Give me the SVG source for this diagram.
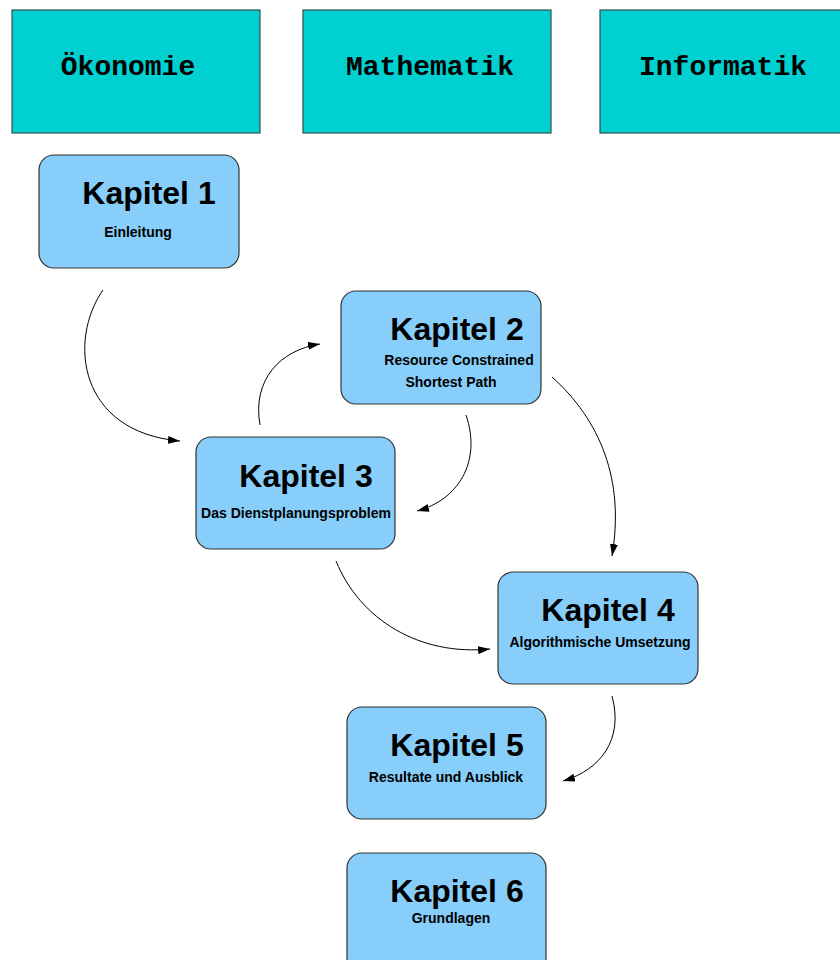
<svg xmlns="http://www.w3.org/2000/svg" width="840" height="960" viewBox="0 0 840 960">
<style>
.area{fill:#00d0d0;stroke:#2f4f4f;stroke-width:1.2}
.area-t{font-family:"Liberation Mono","Courier New",monospace;font-weight:bold;font-size:28px;fill:#000;text-anchor:middle}
.kap{fill:#87cefa;stroke:#333;stroke-width:1.2}
.kap-t{font-family:"Liberation Sans",Arial,sans-serif;font-weight:bold;font-size:32px;fill:#000;text-anchor:middle}
.kap-s{font-family:"Liberation Sans",Arial,sans-serif;font-weight:bold;font-size:14px;fill:#000;text-anchor:middle}
.conn{fill:none;stroke:#000;stroke-width:1}
</style>
<defs>
<marker id="arr" viewBox="0 0 12 8" refX="12" refY="4" markerWidth="12" markerHeight="8" markerUnits="userSpaceOnUse" orient="auto">
<path d="M0,0 L12,4 L0,8 Z" fill="#000"/>
</marker>
</defs>
<rect width="840" height="960" fill="#fff"/>
<g id="oekonomie"><rect class="area" x="12" y="10" width="248" height="123"/><text class="area-t" x="128" y="75">Ökonomie</text></g>
<g id="mathematik"><rect class="area" x="303" y="10" width="248" height="123"/><text class="area-t" x="430" y="75">Mathematik</text></g>
<g id="informatik"><rect class="area" x="600" y="10" width="248" height="123"/><text class="area-t" x="723" y="75">Informatik</text></g>

<g id="kapitel1"><rect class="kap" x="39" y="155" width="200" height="113" rx="15"/><text class="kap-t" x="149" y="204">Kapitel 1</text><text class="kap-s" x="138" y="237">Einleitung</text></g>
<g id="kapitel2"><rect class="kap" x="341" y="291" width="200" height="113" rx="15"/><text class="kap-t" x="457" y="340">Kapitel 2</text><text class="kap-s" x="459" y="365">Resource Constrained</text><text class="kap-s" x="451" y="387">Shortest Path</text></g>
<g id="kapitel3"><rect class="kap" x="196" y="437" width="199" height="112" rx="15"/><text class="kap-t" x="306" y="487">Kapitel 3</text><text class="kap-s" x="296" y="518">Das Dienstplanungsproblem</text></g>
<g id="kapitel4"><rect class="kap" x="498" y="572" width="200" height="112" rx="15"/><text class="kap-t" x="608" y="621">Kapitel 4</text><text class="kap-s" x="600" y="647">Algorithmische Umsetzung</text></g>
<g id="kapitel5"><rect class="kap" x="347" y="707" width="199" height="112" rx="15"/><text class="kap-t" x="457" y="756">Kapitel 5</text><text class="kap-s" x="446" y="782">Resultate und Ausblick</text></g>
<g id="kapitel6"><rect class="kap" x="347" y="853" width="199" height="120" rx="15"/><text class="kap-t" x="457" y="902">Kapitel 6</text><text class="kap-s" x="451" y="923">Grundlagen</text></g>

<g id="connectors">
<path class="conn" d="M103,290 C68,340 78,432 180,441" marker-end="url(#arr)"/>
<path class="conn" d="M260,425 C252,380 280,350 320,344" marker-end="url(#arr)"/>
<path class="conn" d="M466,415 C482,462 458,500 417,511" marker-end="url(#arr)"/>
<path class="conn" d="M552,377 C600,420 625,480 612,556" marker-end="url(#arr)"/>
<path class="conn" d="M336,561 C360,620 420,656 490,649" marker-end="url(#arr)"/>
<path class="conn" d="M612,696 C624,740 600,770 563,781" marker-end="url(#arr)"/>
</g>
</svg>
